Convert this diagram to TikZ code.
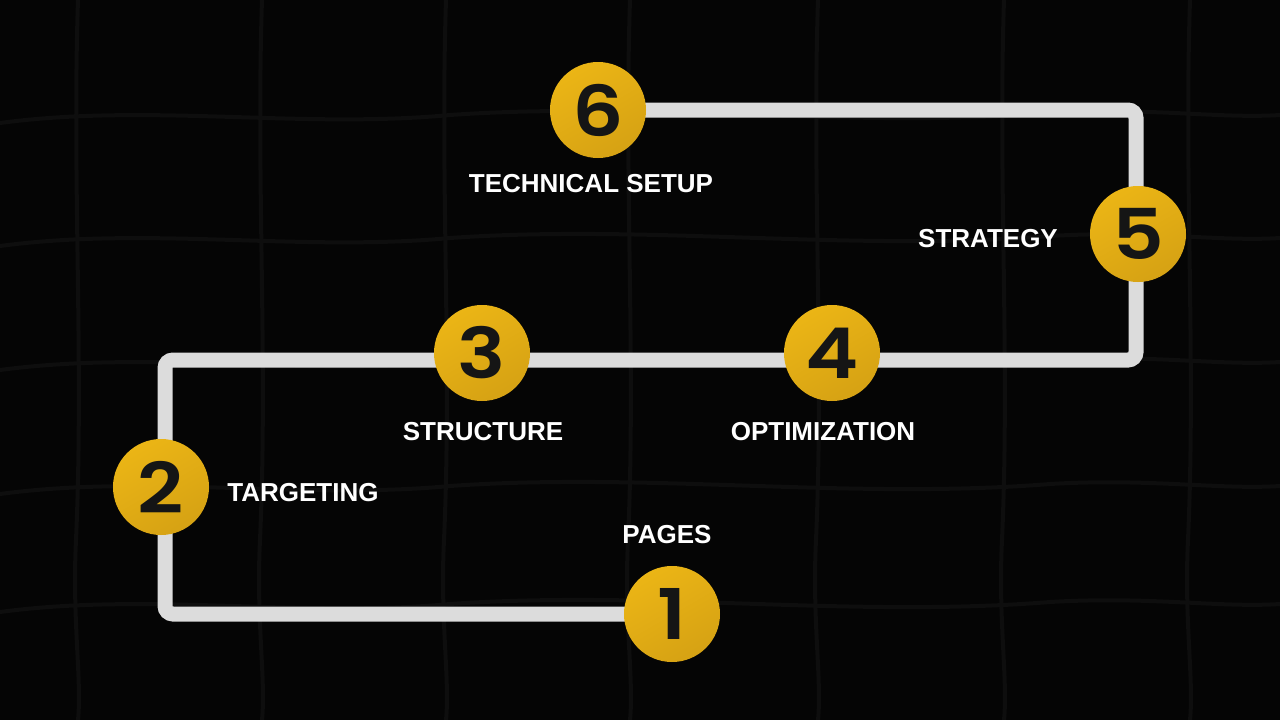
\documentclass[tikz,border=0pt]{standalone}
\usepackage{fontspec}
\setmainfont{Liberation Sans}
\newfontfamily\digitfont{Poppins SemiBold}[FakeStretch=1.15]
\newfontfamily\labelfont{Liberation Sans}
\definecolor{bgc}{HTML}{050505}
\definecolor{gridc}{HTML}{0E0E0E}
\definecolor{goldA}{HTML}{EBB515}
\definecolor{goldB}{HTML}{D6A214}
\definecolor{trackc}{HTML}{DCDCDC}
\definecolor{digitc}{HTML}{151515}
\pgfdeclarelayer{bgl}
\pgfdeclarelayer{track}
\pgfsetlayers{bgl,track,main}
\tikzset{
  stepcircle/.style={circle, minimum size=96pt, inner sep=0pt,
    top color=goldA, bottom color=goldB, shading angle=30,
    font=\digitfont\fontsize{70}{70}\selectfont, text=digitc},
  steplabel/.style={font=\labelfont\bfseries\fontsize{26}{26}\selectfont, text=white, inner sep=0pt},
  trackline/.style={draw=trackc, line width=15pt, rounded corners=8pt},
  gridline/.style={draw=gridc, line width=4pt}
}
\begin{document}
\begin{tikzpicture}[x=1pt,y=-1pt]
\begin{pgfonlayer}{bgl}
  \fill[bgc] (0,0) rectangle (1280,720);
  \useasboundingbox (0,0) rectangle (1280,720);
  % faint wavy grid
  \foreach \gx in {78,262,446,630,818,1004,1190}{
    \draw[gridline] (\gx,0) .. controls (\gx-6,180) and (\gx+6,360) .. (\gx-2,540) .. controls (\gx-6,620) and (\gx+4,680) .. (\gx,720);
  }
  \foreach \gy in {115,238,362,486,604}{
    \draw[gridline] (0,\gy+8) .. controls (150,\gy-12) and (300,\gy+14) .. (450,\gy) .. controls (650,\gy-14) and (850,\gy+14) .. (1050,\gy-2) .. controls (1150,\gy-8) and (1220,\gy+4) .. (1280,\gy);
  }
\end{pgfonlayer}

% step circles
\node[stepcircle] (c1) at (672,614) {1};
\node[stepcircle] (c2) at (161,487) {2};
\node[stepcircle] (c3) at (482,353) {3};
\node[stepcircle] (c4) at (832,353) {4};
\node[stepcircle] (c5) at (1138,234) {5};
\node[stepcircle] (c6) at (598,110) {6};

% labels
\node[steplabel] (l1) at (667,535) {PAGES};
\node[steplabel] (l2) at (303,493) {TARGETING};
\node[steplabel] (l3) at (483,432) {STRUCTURE};
\node[steplabel] (l4) at (823,432) {OPTIMIZATION};
\node[steplabel] (l5) at (988,239) {STRATEGY};
\node[steplabel] (l6) at (591,184) {TECHNICAL SETUP};

% track
\begin{pgfonlayer}{track}
  \coordinate (k1) at (165,614);
  \coordinate (k2) at (165,360);
  \coordinate (k3) at (1136,360);
  \coordinate (k4) at (1136,110);
  \draw[trackline] (c1.center) -- (k1) -- (k2) -- (k3) -- (k4) -- (c6.center);
\end{pgfonlayer}
\end{tikzpicture}
\end{document}
